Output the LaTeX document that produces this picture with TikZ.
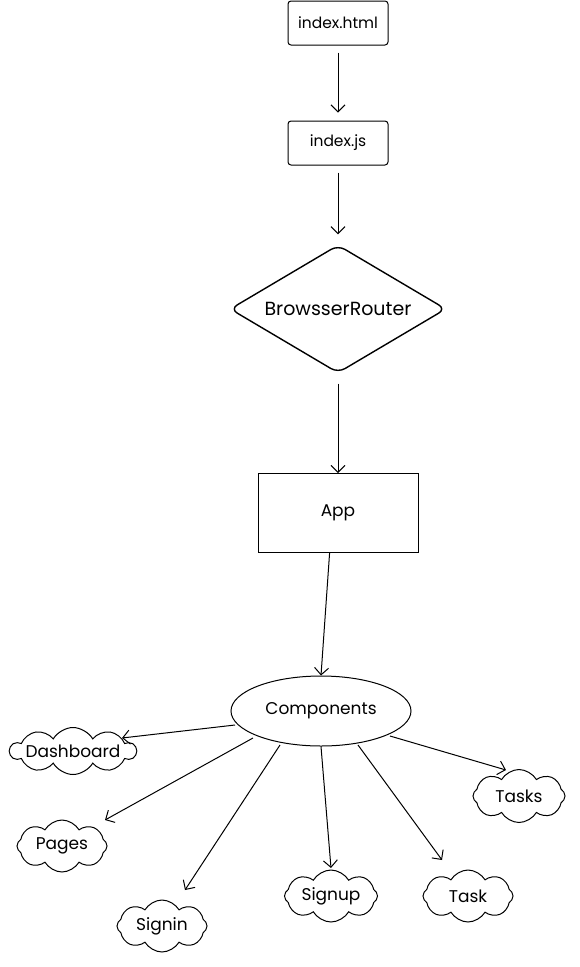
\documentclass[tikz,border=0pt]{standalone}
\usepackage{fontspec}
\setmainfont{Poppins}
\usetikzlibrary{arrows.meta,shapes.geometric,shapes.symbols}

\begin{document}
\begin{tikzpicture}[x=1pt,y=-1pt,
  every node/.style={font=\fontsize{17}{19}\selectfont, text=black},
  filebox/.style={draw, rounded corners=3pt, line width=1pt, minimum width=100pt, minimum height=44pt, font=\fontsize{15.5}{18}\selectfont},
  routerbox/.style={draw, diamond, rounded corners=8pt, line width=1.4pt, minimum width=216pt, minimum height=128pt, aspect=1.7, inner sep=0pt},
  appbox/.style={draw, line width=0.8pt, minimum width=160pt, minimum height=79pt},
  partbubble/.style={draw, ellipse, line width=1pt, minimum width=180pt, minimum height=70pt},
  leaf/.style={draw, cloud, cloud puffs=8, cloud puff arc=120, cloud ignores aspect, line width=1pt, minimum width=90pt, minimum height=52pt, inner sep=-25pt},
  link/.style={line width=1pt, -{Straight Barb[length=7pt,width=14pt]}}]
\useasboundingbox (0,0) rectangle (580,967);

\node[filebox] (html) at (338,23) {index.html};
\node[filebox] (js) at (338,143) {index.js};
\node[routerbox, font=\fontsize{19}{21}\selectfont] (router) at (338,309) {BrowsserRouter};
\node[appbox] (app) at (338,513) {App};
\node[partbubble] (comp) at (321,711) {Components};

\node[leaf, cloud puffs=10, minimum width=126pt, minimum height=47pt, inner sep=-40pt] (dash) at (73,751) {Dashboard};
\node[leaf] (pages) at (62,846) {Pages};
\node[leaf] (signin) at (162,926) {Signin};
\node[leaf, minimum width=93pt] (signup) at (331,896) {Signup};
\node[leaf] (task) at (468,896) {Task};
\node[leaf, minimum width=92pt, minimum height=53pt] (tasks) at (519,796) {Tasks};

\draw[link, shorten <=7pt, shorten >=8pt] (html) -- (js);
\draw[link, shorten <=7pt, shorten >=10pt] (js) -- (router);
\draw[link, shorten <=10pt] (router) -- (app);
\draw[link] (app.south west) ++(72,0) coordinate (appout) -- (comp.north);

\draw[link] (comp) ++(-86,14) coordinate (c1) -- (122,738);
\draw[link] (comp) ++(-68,27) coordinate (c2) -- (105,820);
\draw[link] (comp) ++(-41,34) coordinate (c3) -- (185,890);
\draw[link] (comp.south) -- (331,868);
\draw[link] (comp) ++(37,34) coordinate (c5) -- (442,860);
\draw[link] (comp) ++(69,25) coordinate (c6) -- (506,770);
\end{tikzpicture}
\end{document}
